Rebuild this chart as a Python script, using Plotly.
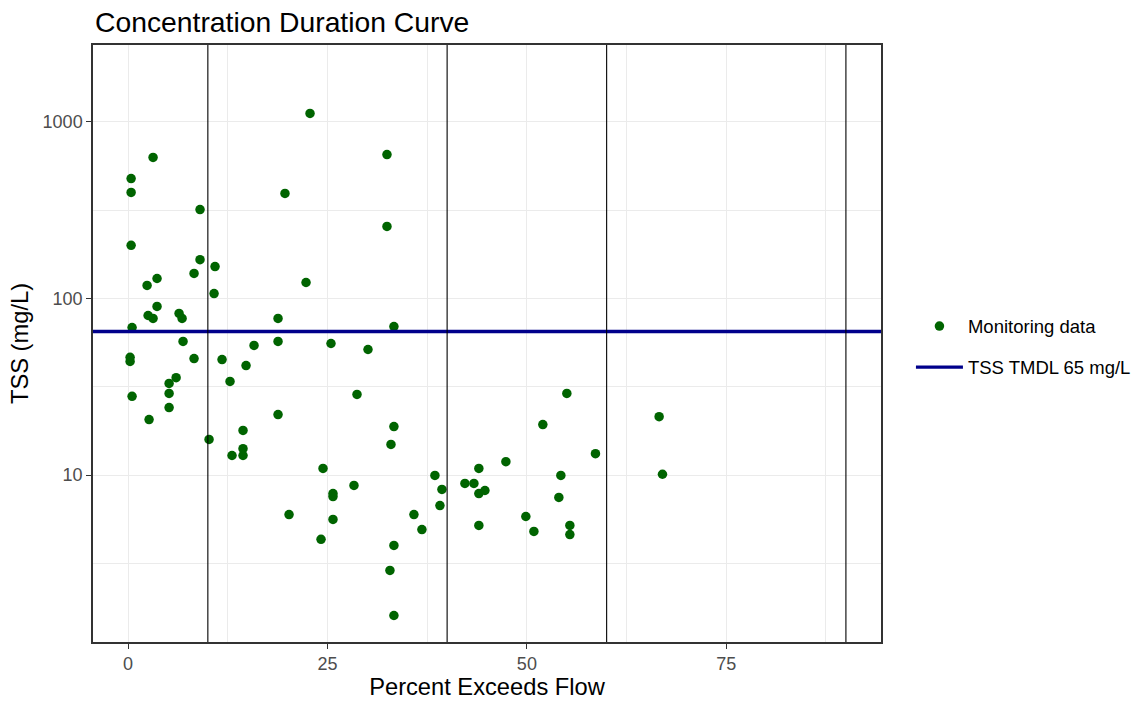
import plotly.graph_objects as go

# Monitoring data: percent exceeds flow and TSS (mg/L)
pct_exceeds = [0.38, 0.38, 0.38, 0.5, 0.25, 0.25, 0.5, 3.13, 2.38, 2.51, 3.13, 3.63, 3.63, 2.63,
               5.14, 5.14, 5.14, 6.02, 6.39, 6.77, 6.89, 8.27, 8.27, 9.02, 9.02, 10.15, 10.78, 10.90,
               11.78, 12.78, 13.03, 14.41, 14.41, 14.41, 14.79, 15.79, 18.80, 18.80, 18.80, 19.67,
               20.18, 22.31, 22.81, 24.19, 24.44, 25.44, 25.69, 25.69, 25.69, 28.32, 28.70, 30.08,
               32.46, 32.46, 32.83, 32.96, 33.33, 33.33, 33.33, 33.33, 35.84, 36.84, 38.47, 39.10,
               39.35, 42.23, 43.36, 43.98, 43.98, 44.74, 43.98, 47.37, 49.87, 50.88, 52.0, 54.01,
               54.26, 55.01, 55.39, 55.39, 58.60, 66.58, 67.0]
tss = [478, 399, 200, 68.5, 46.4, 44.0, 27.9, 630, 118.5, 80.1, 77.1, 129.8, 90.1, 20.6,
       33.0, 29.0, 24.1, 35.6, 82.3, 77.1, 57.1, 138.6, 45.7, 319, 166, 15.9, 106.7, 151.7,
       45.1, 33.9, 12.9, 17.9, 14.1, 12.9, 41.7, 54.2, 77.1, 57.1, 22.0, 393.7,
       5.97, 123.2, 1117, 4.32, 10.9, 55.6, 7.85, 7.55, 5.6, 8.73, 28.6, 51.4,
       654, 256, 2.88, 14.9, 69.3, 18.8, 3.99, 1.60, 5.97, 4.91, 9.94, 6.71,
       8.28, 8.96, 8.96, 10.9, 7.85, 8.17, 5.18, 11.9, 5.82, 4.79, 19.3, 7.46,
       9.94, 29.0, 5.18, 4.60, 13.2, 21.4, 10.1]

tmdl_value = 65
flow_zone_breaks = [10, 40, 60, 90]

x_ticks = [0, 25, 50, 75]
x_minor = [12.5, 37.5, 62.5, 87.5]
y_ticks = [10, 100, 1000]
y_minor = [10 ** 0.5, 10 ** 1.5, 10 ** 2.5]

x_range = [-4.4, 94.4]
y_log_range = [0.054, 3.436]

FONT = "Liberation Sans, Arial, sans-serif"

fig = go.Figure()

fig.add_trace(go.Scatter(
    x=pct_exceeds, y=tss, mode="markers", name="Monitoring data",
    marker=dict(color="#006400", size=9.5, line=dict(width=0)),
    legendgroup="a",
))

fig.add_trace(go.Scatter(
    x=x_range, y=[tmdl_value, tmdl_value], mode="lines",
    name=f"TSS TMDL {tmdl_value} mg/L",
    line=dict(color="#00008B", width=3.4),
    legendgroup="b",
))

for b in flow_zone_breaks:
    fig.add_shape(type="line", xref="x", yref="paper", x0=b, x1=b, y0=0, y1=1,
                  line=dict(color="black", width=1.1), layer="above")

fig.update_layout(
    width=1145, height=706,
    margin=dict(l=93, r=264, t=45, b=64, autoexpand=False),
    paper_bgcolor="white", plot_bgcolor="white",
    font=dict(family=FONT, color="#000000"),
    title=dict(text="Concentration Duration Curve", x=95 / 1145, xref="container",
               xanchor="left", y=1 - 22 / 706, yref="container", yanchor="middle",
               font=dict(size=28.3, color="#000000")),
    legend=dict(x=1.038, xanchor="left", y=0.494, yanchor="middle",
                font=dict(size=18.5, color="#000000"), itemwidth=47,
                tracegroupgap=14, bgcolor="rgba(0,0,0,0)"),
    showlegend=True,
)

fig.update_xaxes(
    range=x_range, tickvals=x_ticks, ticktext=[str(v) for v in x_ticks],
    showgrid=True, gridcolor="#EBEBEB", gridwidth=1.3,
    minor=dict(tickvals=x_minor, showgrid=True, gridcolor="#EBEBEB", gridwidth=0.8),
    showline=True, mirror=True, linecolor="#333333", linewidth=1.5,
    ticks="outside", ticklen=5, tickwidth=1.3, tickcolor="#333333",
    tickfont=dict(size=18, color="#4D4D4D", family=FONT),
    zeroline=False, automargin=False,
    title=dict(text="Percent Exceeds Flow", font=dict(size=23.7, color="#000000"), standoff=5),
)

fig.update_yaxes(
    type="log", range=y_log_range, tickvals=y_ticks, ticktext=[str(v) for v in y_ticks],
    showgrid=True, gridcolor="#EBEBEB", gridwidth=1.3,
    minor=dict(tickvals=y_minor, showgrid=True, gridcolor="#EBEBEB", gridwidth=0.8),
    showline=True, mirror=True, linecolor="#333333", linewidth=1.5,
    ticks="outside", ticklen=5, tickwidth=1.3, tickcolor="#333333",
    tickfont=dict(size=18, color="#4D4D4D", family=FONT),
    zeroline=False, automargin=False,
    title=dict(text="TSS (mg/L)", font=dict(size=23.7, color="#000000"), standoff=7),
)

fig.write_html("out.html")
